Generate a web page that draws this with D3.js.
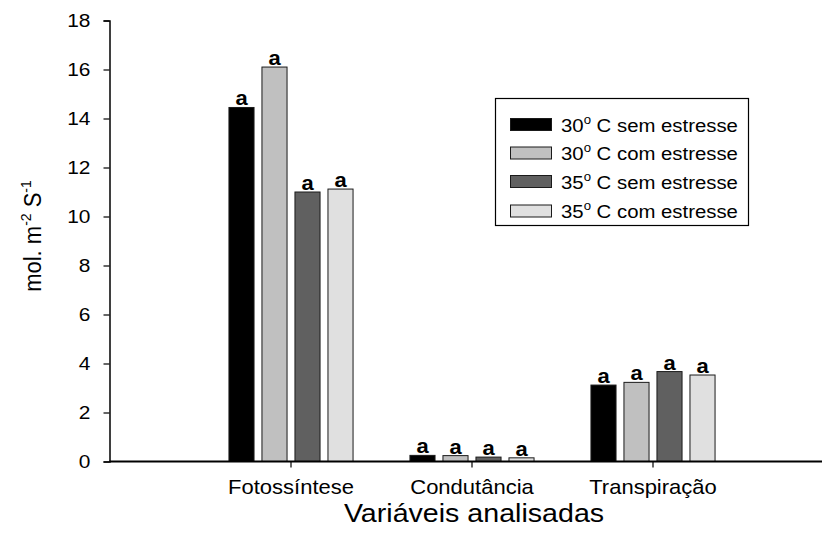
<!DOCTYPE html>
<html>
<head>
<meta charset="utf-8">
<script src="https://cdn.jsdelivr.net/npm/d3@7"></script>
<style>
  body { margin: 0; background: #fff; }
  svg { display: block; font-family: "Liberation Sans", Arial, sans-serif; }
</style>
</head>
<body>
<svg id="chart" width="822" height="540"></svg>
<script>
const categories = ["Fotossíntese", "Condutância", "Transpiração"];
const seriesNames = ["30|C sem estresse", "30|C com estresse", "35|C sem estresse", "35|C com estresse"];
const s30sem = [14.45, 0.25, 3.12];
const s30com = [16.1, 0.24, 3.23];
const s35sem = [11.0, 0.18, 3.67];
const s35com = [11.12, 0.15, 3.53];
const letters = [["a","a","a","a"],["a","a","a","a"],["a","a","a","a"]];
const yTicks = [0, 2, 4, 6, 8, 10, 12, 14, 16, 18];

const seriesValues = [s30sem, s30com, s35sem, s35com];
const colors = ["#000000", "#c0c0c0", "#606060", "#e0e0e0"];
const SX = 1.1; // horizontal text stretch seen in the reference

function stretch(sel) {
  sel.each(function () {
    const t = d3.select(this);
    const x = +t.attr("x") || 0, yy = +t.attr("y") || 0;
    t.attr("x", 0).attr("y", 0).attr("transform", `translate(${x},${yy}) scale(${SX},1)`);
  });
}

const svg = d3.select("#chart");
const axisLeftX = 109.5, axisRightX = 822;
const y = d3.scaleLinear().domain([0, 18]).range([461.5, 20.5]);
const x0 = d3.scaleBand().domain(categories).range([200.5, 743.5]).padding(0);
const x1 = d3.scaleBand().domain(d3.range(4)).range([0, x0.bandwidth()])
  .paddingInner(0.24).paddingOuter(0.862);

// Bars
categories.forEach((c, ci) => {
  const g = svg.append("g").attr("transform", `translate(${x0(c)},0)`);
  seriesValues.forEach((vals, si) => {
    g.append("rect")
      .attr("x", x1(si))
      .attr("y", y(vals[ci]))
      .attr("width", x1.bandwidth())
      .attr("height", y(0) - y(vals[ci]))
      .attr("fill", colors[si])
      .attr("stroke", "#1a1a1a")
      .attr("stroke-width", 1);
    g.append("text")
      .attr("x", x1(si) + x1.bandwidth() / 2)
      .attr("y", y(vals[ci]) - 2)
      .attr("text-anchor", "middle")
      .attr("font-size", 20)
      .attr("font-weight", "bold")
      .attr("font-family", "Liberation Sans, Arial, sans-serif")
      .text(letters[ci][si])
      .call(stretch);
  });
});

// Y axis
const yAxis = d3.axisLeft(y).tickValues(yTicks).tickSize(6).tickPadding(13).tickFormat(d3.format("d"));
const yg = svg.append("g").attr("transform", `translate(${axisLeftX},0)`).call(yAxis);
yg.select(".domain").attr("stroke", "#000").attr("stroke-width", 1.5);
yg.selectAll(".tick line").attr("stroke", "#000").attr("stroke-width", 1.2);
yg.selectAll(".tick text").attr("font-size", 19).attr("fill", "#000")
  .attr("font-family", "Liberation Sans, Arial, sans-serif").call(stretch);

// X axis
const xAxis = d3.axisBottom(x0).tickSize(6).tickPadding(12);
const xg = svg.append("g").attr("transform", `translate(0,${y(0)})`).call(xAxis);
xg.select(".domain").remove();
xg.selectAll(".tick line").attr("stroke", "#000").attr("stroke-width", 1.2);
xg.selectAll(".tick text").attr("font-size", 20).attr("fill", "#000")
  .attr("font-family", "Liberation Sans, Arial, sans-serif").call(stretch);
svg.append("line")
  .attr("x1", axisLeftX).attr("x2", axisRightX)
  .attr("y1", y(0)).attr("y2", y(0))
  .attr("stroke", "#000").attr("stroke-width", 1.8);

// Axis titles
svg.append("text")
  .attr("x", 474).attr("y", 522)
  .attr("text-anchor", "middle")
  .attr("font-size", 26)
  .text("Variáveis analisadas")
  .call(stretch);

const yl = svg.append("text")
  .attr("transform", "translate(41,236) rotate(-90) scale(1,1.1)")
  .attr("text-anchor", "middle")
  .attr("font-size", 22);
yl.append("tspan").text("mol. m");
yl.append("tspan").attr("font-size", 14).attr("dy", -9).text("-2");
yl.append("tspan").attr("dy", 9).text(" S");
yl.append("tspan").attr("font-size", 14).attr("dy", -9).text("-1");

// Legend
const lg = svg.append("g");
lg.append("rect").attr("x", 495.5).attr("y", 98.5).attr("width", 253).attr("height", 127)
  .attr("fill", "#fff").attr("stroke", "#000").attr("stroke-width", 1.2);
const rowY = [124.5, 153, 181.5, 211];
seriesNames.forEach((name, i) => {
  const [num, rest] = name.split("|");
  lg.append("rect").attr("x", 510.5).attr("y", rowY[i] - 6).attr("width", 41).attr("height", 12)
    .attr("fill", colors[i]).attr("stroke", "#1a1a1a").attr("stroke-width", 1);
  const t = lg.append("text").attr("x", 561).attr("y", rowY[i] + 7).attr("font-size", 18.5);
  t.append("tspan").text(num);
  t.append("tspan").attr("font-size", 12).attr("dy", -8).text("o");
  t.append("tspan").attr("dy", 8).text(" " + rest);
  t.call(stretch);
});
</script>
</body>
</html>
